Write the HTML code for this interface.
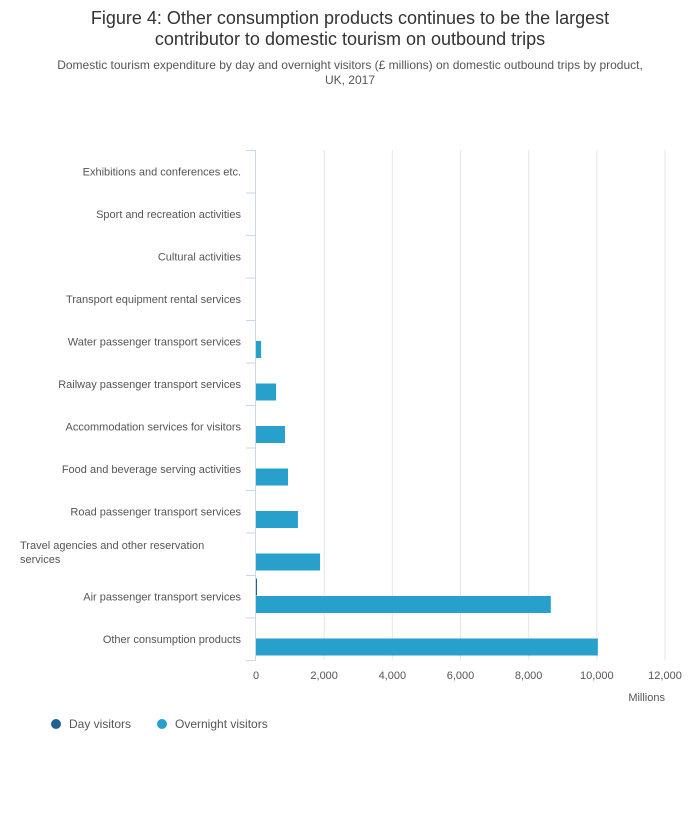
<!DOCTYPE html>
<html><head><meta charset="utf-8"><style>
body{margin:0;background:#fff;font-family:"Liberation Sans",sans-serif;}
</style></head><body>
<svg width="700" height="810" xmlns="http://www.w3.org/2000/svg" font-family="Liberation Sans, sans-serif">
<text x="350" y="24" text-anchor="middle" font-size="18" fill="#333">Figure 4: Other consumption products continues to be the largest</text>
<text x="350" y="45" text-anchor="middle" font-size="18" fill="#333">contributor to domestic tourism on outbound trips</text>
<text x="350" y="69" text-anchor="middle" font-size="12" fill="#555">Domestic tourism expenditure by day and overnight visitors (£ millions) on domestic outbound trips by product,</text>
<text x="350" y="84" text-anchor="middle" font-size="12" fill="#555">UK, 2017</text>
<g id="grid"></g><g id="bars"></g><g id="axes"></g>
<text x="665" y="701" text-anchor="end" font-size="11" fill="#555">Millions</text>
<g>
<circle cx="56" cy="724" r="5" fill="#206095"/>
<text x="69" y="728" font-size="12" fill="#555">Day visitors</text>
<circle cx="162" cy="724" r="5" fill="#27a0cc"/>
<text x="175" y="728" font-size="12" fill="#555">Overnight visitors</text>
</g>
</svg>
<script>
const categories=[["Exhibitions and conferences etc."],["Sport and recreation activities"],["Cultural activities"],["Transport equipment rental services"],["Water passenger transport services"],["Railway passenger transport services"],["Accommodation services for visitors"],["Food and beverage serving activities"],["Road passenger transport services"],["Travel agencies and other reservation","services"],["Air passenger transport services"],["Other consumption products"]];
const dayValues=[0,0,0,0,0,0,0,0,0,0,30,0];
const overnightValues=[0,0,0,0,150,590,850,940,1230,1880,8650,10030];
const xTicks=[0,2000,4000,6000,8000,10000,12000];
const xTickLabels=["0","2,000","4,000","6,000","8,000","10,000","12,000"];
const NS="http://www.w3.org/2000/svg";
const x0=256,x1=665,xMax=12000,yTop=150,band=42.5;
const xs=v=>x0+v/xMax*(x1-x0);
const yb=i=>yTop+i*band;
function mk(t,a,p){const e=document.createElementNS(NS,t);for(const k in a)e.setAttribute(k,a[k]);p.appendChild(e);return e;}
const grid=document.getElementById('grid'),bars=document.getElementById('bars'),axes=document.getElementById('axes');
xTicks.forEach((v,i)=>{
 if(i>0){const l=mk('line',{x1:xs(v),x2:xs(v),y1:yTop,y2:yb(12),stroke:'#e6e6e6'},grid);
 
 }
 const t=mk('text',{x:xs(v),y:679,'text-anchor':'middle','font-size':11,fill:'#555'},axes);t.textContent=xTickLabels[i];
 
 
});
const ax=mk('line',{x1:255.5,x2:255.5,y1:yTop,y2:yb(12),stroke:'#ccd6eb'},axes);


for(let i=0;i<=12;i++){const tk=mk('line',{x1:246,x2:256,y1:yb(i)+0.5,y2:yb(i)+0.5,stroke:'#ccd6eb'},axes);
 
 }
categories.forEach((c,i)=>{
 const cy=yb(i)+band/2;
 const t=mk('text',{x:c.length>1?20:241,y:c.length>1?cy-5:cy+4,'text-anchor':c.length>1?'start':'end','font-size':11,fill:'#555'},axes);
 c.forEach((s,j)=>{const ts=mk('tspan',{x:c.length>1?20:241,dy:j?14:0},t);ts.textContent=s;});
 
 
 if(dayValues[i]>0){const r=mk('rect',{x:x0,y:yb(i)+3.5,width:Math.max(1,xs(dayValues[i])-x0),height:17,fill:'#206095'},bars);
  
  }
 if(overnightValues[i]>0){const r=mk('rect',{x:x0,y:yb(i)+21,width:xs(overnightValues[i])-x0,height:17,fill:'#27a0cc'},bars);
  
  }
});
</script>
</body></html>
